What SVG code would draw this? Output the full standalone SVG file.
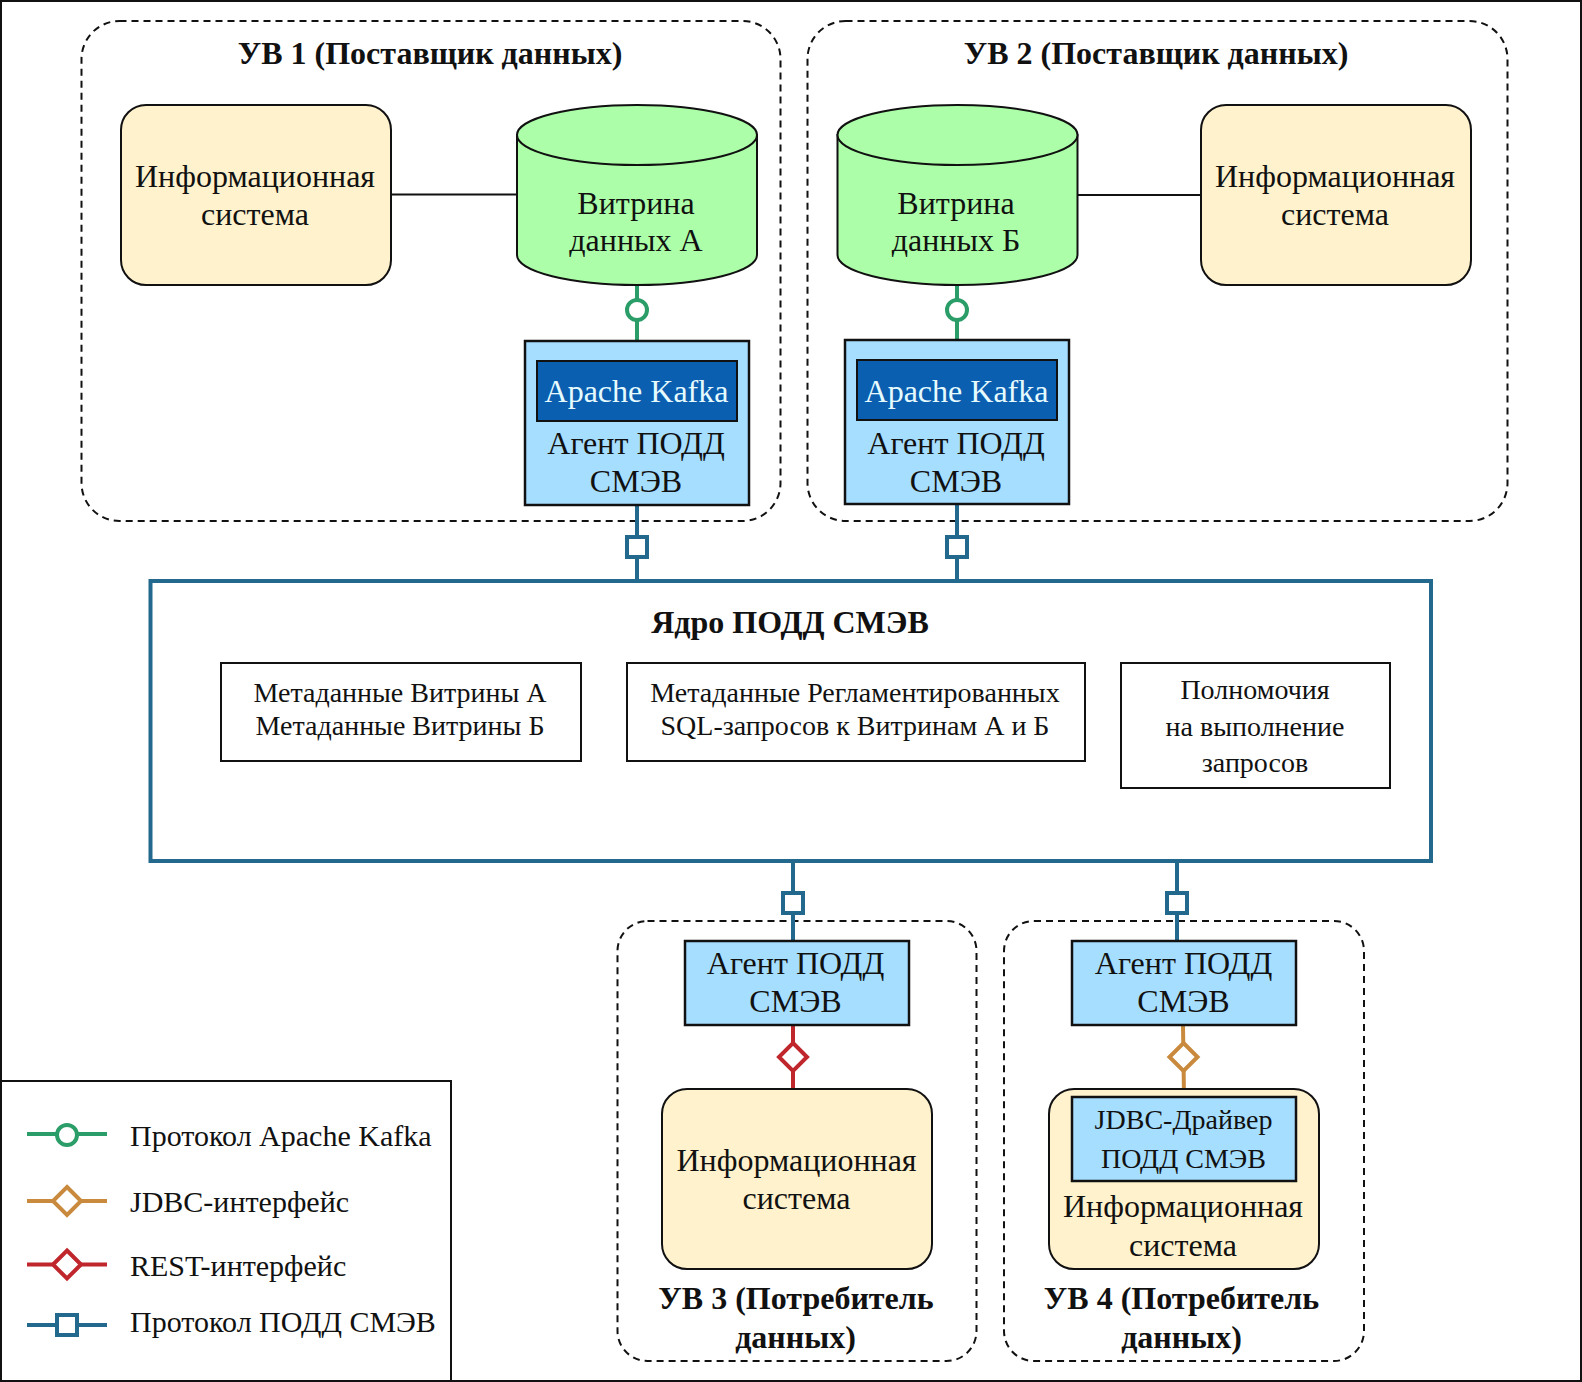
<svg xmlns="http://www.w3.org/2000/svg" width="1582" height="1382" viewBox="0 0 1582 1382">
<style>
text{font-family:"Liberation Serif","Times New Roman",serif;fill:#111;text-anchor:middle}
.t30{font-size:32px}.t27{font-size:28px}.b{font-size:32px;font-weight:bold}
.leg{font-size:30px;text-anchor:start}
.dash{fill:none;stroke:#111;stroke-width:2;stroke-dasharray:7 5}
.is{fill:#fff2cc;stroke:#111;stroke-width:2}
.ag{fill:#a6deff;stroke:#111;stroke-width:2.5}
.db{fill:#acffa8;stroke:#111;stroke-width:2}
.wb{fill:#fff;stroke:#111;stroke-width:2}
.kf{fill:#0b5fb0;stroke:#111;stroke-width:2}
.kt{fill:#e6fbff}
.g{stroke:#2a9d68;fill:none;stroke-width:4}.o{stroke:#c98a3e;fill:none;stroke-width:4}.r{stroke:#c0272d;fill:none;stroke-width:4}.bl{stroke:#23698e;fill:none;stroke-width:4}
.s{fill:#fff}
</style>
<rect width="1582" height="1382" fill="#fff"/>
<rect x="1" y="1" width="1580" height="1380" fill="none" stroke="#111" stroke-width="2"/>
<g id="uv1"><rect class="dash" x="81.500" y="21" width="699" height="500" rx="38"/><text class="b" x="430" y="64">УВ 1 (Поставщик данных)</text></g>
<g id="uv2"><rect class="dash" x="807.500" y="21" width="700" height="500" rx="38"/><text class="b" x="1156" y="64">УВ 2 (Поставщик данных)</text></g>
<g id="uv3"><rect class="dash" x="617.500" y="921" width="359" height="440" rx="30"/><text class="b" x="796" y="1309">УВ 3 (Потребитель</text><text class="b" x="795.500" y="1348">данных)</text></g>
<g id="uv4"><rect class="dash" x="1004" y="921" width="360" height="440" rx="30"/><text class="b" x="1181.500" y="1309">УВ 4 (Потребитель</text><text class="b" x="1181.500" y="1348">данных)</text></g>
<g id="connectors">
<path d="M391 194.500H517M1078 195H1201" stroke="#111" stroke-width="2" fill="none"/>
<path class="g" d="M637 285V341"/><circle class="g s" cx="637" cy="310" r="10"/>
<path class="g" d="M957 285V340"/><circle class="g s" cx="957" cy="310" r="10"/>
<path class="bl" d="M637 505V581"/><rect class="bl s" x="627" y="537" width="20" height="20"/>
<path class="bl" d="M957 505V581"/><rect class="bl s" x="947" y="537" width="20" height="20"/>
<path class="bl" d="M793 861V941"/><rect class="bl s" x="783" y="893" width="20" height="20"/>
<path class="bl" d="M1177 861V941"/><rect class="bl s" x="1167" y="893" width="20" height="20"/>
<path class="r" d="M793 1025V1088"/><path class="r s" d="M793 1043L807 1057L793 1071L779 1057Z"/>
<path class="o" d="M1183 1025L1184 1097"/><path class="o s" d="M1183.500 1043L1197.500 1057L1183.500 1071L1169.500 1057Z"/>
</g>
<g id="is1"><rect class="is" x="121" y="105" width="270" height="180" rx="25"/><text class="t30" x="255" y="187">Информационная</text><text class="t30" x="255" y="225">система</text></g>
<g id="db-a"><path class="db" d="M517 135V255A120 30 0 0 0 757 255V135Z"/><ellipse class="db" cx="637" cy="135" rx="120" ry="30"/><text class="t30" x="636" y="213.500">Витрина</text><text class="t30" x="636" y="251">данных А</text></g>
<g id="agent1"><rect class="ag" x="525" y="341" width="224" height="164"/><rect class="kf" x="537" y="361" width="200" height="60"/><text class="t30 kt" style="fill:#e6fbff" x="636.500" y="402">Apache Kafka</text><text class="t30" x="636" y="453.500">Агент ПОДД</text><text class="t30" x="636" y="492">СМЭВ</text></g>
<g id="db-b"><path class="db" d="M837.500 135V255A120 30 0 0 0 1077.500 255V135Z"/><ellipse class="db" cx="957.500" cy="135" rx="120" ry="30"/><text class="t30" x="956" y="213.500">Витрина</text><text class="t30" x="956" y="251">данных Б</text></g>
<g id="agent2"><rect class="ag" x="845" y="340" width="224" height="164"/><rect class="kf" x="857" y="360" width="200" height="60"/><text class="t30" style="fill:#e6fbff" x="956.500" y="402">Apache Kafka</text><text class="t30" x="956" y="453.500">Агент ПОДД</text><text class="t30" x="956" y="492">СМЭВ</text></g>
<g id="is2"><rect class="is" x="1201" y="105" width="270" height="180" rx="25"/><text class="t30" x="1335" y="187">Информационная</text><text class="t30" x="1335" y="225">система</text></g>
<g id="core"><rect x="150.500" y="581" width="1280.500" height="280" fill="#fff" stroke="#23698e" stroke-width="4"/><text class="b" x="790" y="632.500">Ядро ПОДД СМЭВ</text>
<rect class="wb" x="221" y="663" width="360" height="98"/><text class="t27" x="400" y="702">Метаданные Витрины А</text><text class="t27" x="400" y="735">Метаданные Витрины Б</text>
<rect class="wb" x="627" y="663" width="458" height="98"/><text class="t27" x="855" y="702">Метаданные Регламентированных</text><text class="t27" x="855" y="735">SQL-запросов к Витринам А и Б</text>
<rect class="wb" x="1121" y="663" width="269" height="125"/><text class="t27" x="1255" y="699">Полномочия</text><text class="t27" x="1255" y="736">на выполнение</text><text class="t27" x="1255" y="772">запросов</text></g>
<g id="agent3"><rect class="ag" x="685" y="941" width="224" height="84"/><text class="t30" x="795.500" y="973.500">Агент ПОДД</text><text class="t30" x="795.500" y="1012">СМЭВ</text></g>
<g id="agent4"><rect class="ag" x="1072" y="941" width="224" height="84"/><text class="t30" x="1183.500" y="973.500">Агент ПОДД</text><text class="t30" x="1183.500" y="1012">СМЭВ</text></g>
<g id="is3"><rect class="is" x="662" y="1089" width="270" height="180" rx="25"/><text class="t30" x="796.500" y="1171">Информационная</text><text class="t30" x="796.500" y="1209">система</text></g>
<g id="is4"><rect class="is" x="1049" y="1089" width="270" height="180" rx="25"/><rect class="ag" x="1072" y="1097" width="224" height="84"/><text class="t27" x="1183.500" y="1129">JDBC-Драйвер</text><text class="t27" x="1183.500" y="1168">ПОДД СМЭВ</text><text class="t30" x="1183" y="1217">Информационная</text><text class="t30" x="1183" y="1256">система</text></g>
<g id="legend"><rect x="1" y="1081" width="450" height="300" fill="#fff" stroke="#111" stroke-width="2"/>
<path class="g" d="M27 1134H107"/><circle class="g s" cx="67" cy="1135" r="10"/><text class="leg" x="130" y="1146">Протокол Apache Kafka</text>
<path class="o" d="M27 1201H107"/><path class="o s" d="M67 1187L81 1201L67 1215L53 1201Z"/><text class="leg" x="130" y="1212">JDBC-интерфейс</text>
<path class="r" d="M27 1264.500H107"/><path class="r s" d="M67 1250.500L81 1264.500L67 1278.500L53 1264.500Z"/><text class="leg" x="130" y="1276">REST-интерфейс</text>
<path class="bl" d="M27 1325H107"/><rect class="bl s" x="57" y="1315" width="20" height="20"/><text class="leg" x="130" y="1332">Протокол ПОДД СМЭВ</text></g>
</svg>
